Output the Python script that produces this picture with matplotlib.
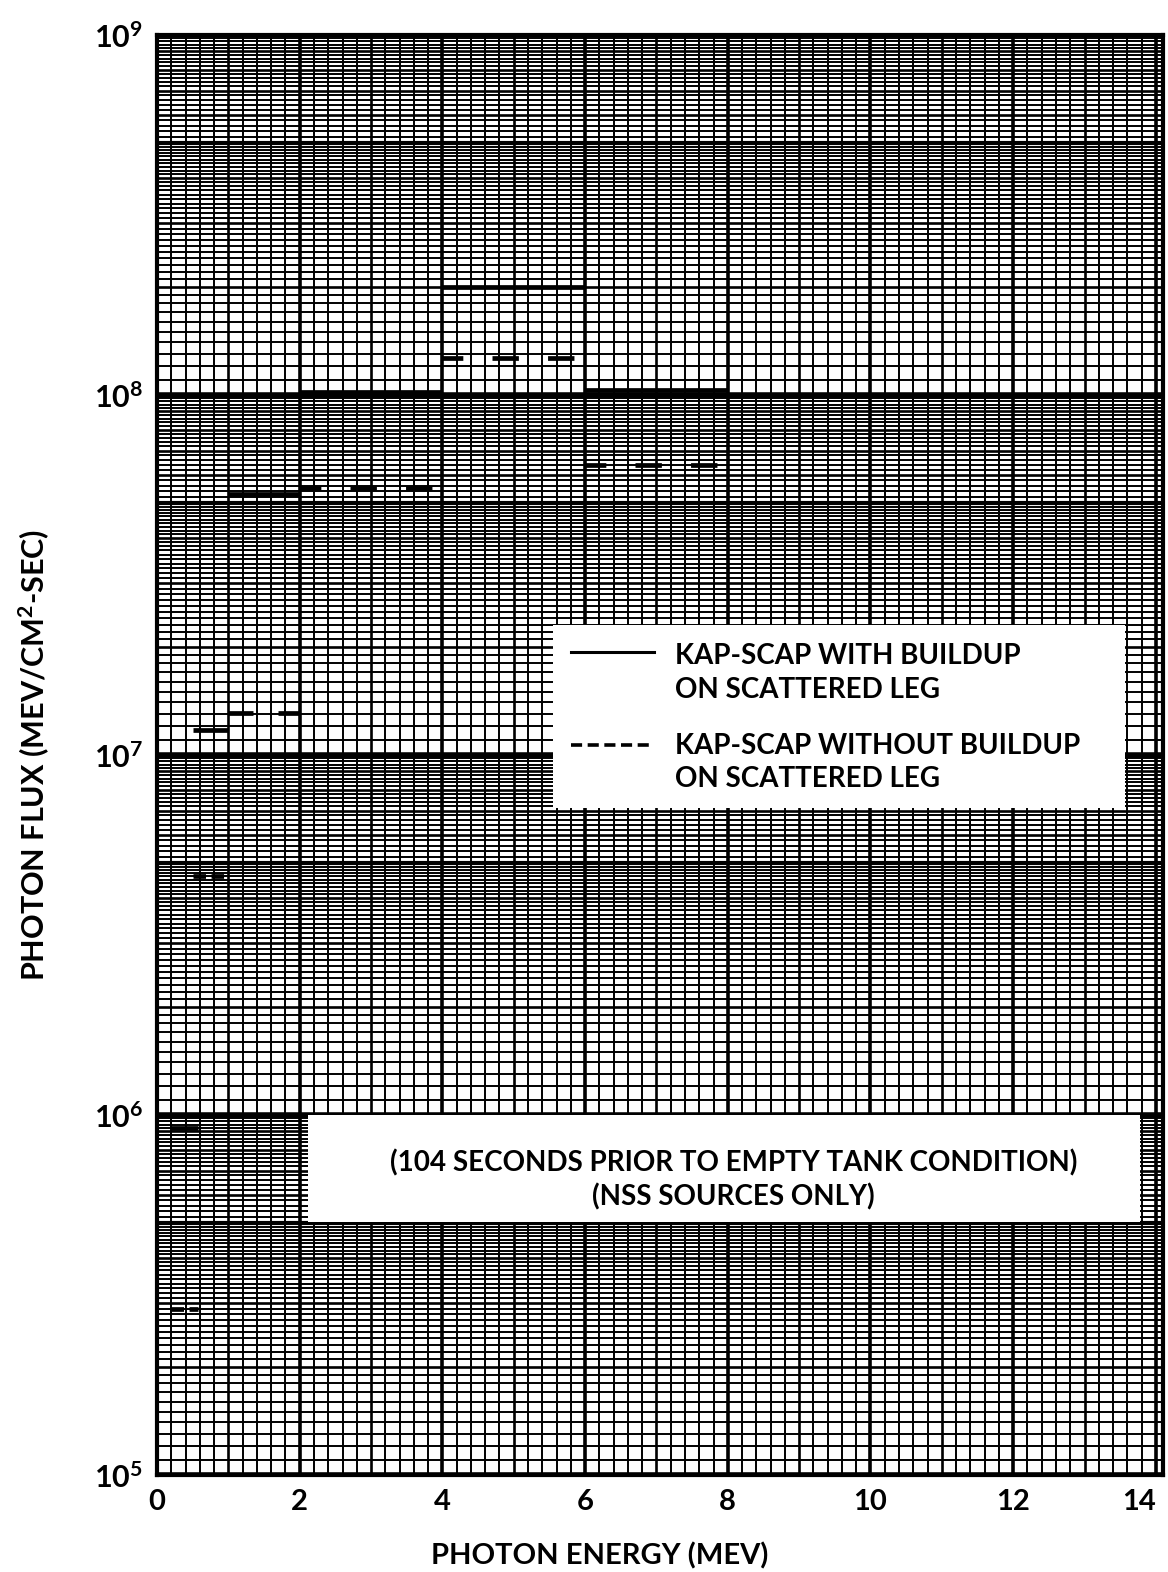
import matplotlib
matplotlib.use("Agg")
import matplotlib.pyplot as plt
import numpy as np
from matplotlib.patches import Rectangle

plt.rcParams['font.family'] = ['Lato', 'DejaVu Sans']
plt.rcParams['font.weight'] = 'bold'
plt.rcParams['axes.labelweight'] = 'bold'
plt.rcParams['mathtext.fontset'] = 'custom'
plt.rcParams['mathtext.rm'] = 'Lato:bold'
plt.rcParams['lines.scale_dashes'] = False

# energy bins (MeV) and photon flux
bin_lo = [0.2, 0.5, 1.0, 2.0, 4.0, 6.0]
bin_hi = [0.57, 1.0, 2.0, 4.0, 6.0, 8.0]
flux_with = [9.2e5, 1.17e7, 5.3e7, 1.02e8, 2.0e8, 1.03e8]
flux_without = [2.9e5, 4.6e6, 1.31e7, 5.5e7, 1.27e8, 6.4e7]

xticks = [0, 2, 4, 6, 8, 10, 12, 14]
yticks = [1e5, 1e6, 1e7, 1e8, 1e9]
ytick_labels = [r'$\mathregular{10^{5}}$', r'$\mathregular{10^{6}}$', r'$\mathregular{10^{7}}$',
                r'$\mathregular{10^{8}}$', r'$\mathregular{10^{9}}$']

fig = plt.figure(figsize=(11.68, 15.72), dpi=100)
ax = fig.add_axes([157/1168, 97/1572, 1006/1168, 1440/1572])
ax.set_yscale('log')
ax.set_xlim(0, 14.1)
ax.set_ylim(1e5, 1e9)

# graph paper: vertical lines
for x in np.arange(0, 14.2, 0.2):
    xr = round(x, 1)
    if abs(xr - round(xr)) < 1e-6 and int(round(xr)) % 2 == 0:
        lw = 2.6
    elif abs(xr - round(xr)) < 1e-6:
        lw = 1.9
    else:
        lw = 1.4
    ax.axvline(xr, color='black', lw=lw, zorder=1)

# graph paper: horizontal lines, one log cycle at a time
for dec in [1e5, 1e6, 1e7, 1e8]:
    vals = list(np.arange(1.0, 2.0, 0.1)) + list(np.arange(2.0, 5.0, 0.1)) + list(np.arange(5.0, 10.0, 0.2))
    for v in vals:
        v = round(v, 2)
        if v == 1.0:
            lw = 4.0
        elif v == 5.0:
            lw = 3.0
        elif abs(v - round(v)) < 1e-6:
            lw = 1.9
        else:
            lw = 1.4
        ax.axhline(v * dec, color='black', lw=lw, zorder=1)

# data
for lo, hi, f in zip(bin_lo, bin_hi, flux_with):
    ax.plot([lo, hi], [f, f], color='black', lw=3.4, solid_capstyle='butt', zorder=5)
for lo, hi, f in zip(bin_lo, bin_hi, flux_without):
    w = hi - lo
    if w >= 2:
        dash = (4, (19, 21))
    elif w >= 1:
        dash = (2, (20, 18))
    else:
        dash = (0, (9, 4))
    ax.plot([lo, hi], [f, f], color='black', lw=3.4, linestyle=dash, dash_capstyle='butt', zorder=5)

# legend box
ax.add_patch(Rectangle((0.394, 0.463), 0.568, 0.127, transform=ax.transAxes,
                       facecolor='white', edgecolor='none', zorder=3))
ax.plot([0.412, 0.494], [0.5715, 0.5715], transform=ax.transAxes, color='black', lw=2.2, zorder=6)
ax.plot([0.412, 0.494], [0.507, 0.507], transform=ax.transAxes, color='black', lw=2.6,
        linestyle=(0, (8, 4)), zorder=6)
ax.text(0.515, 0.569, 'KAP-SCAP WITH BUILDUP', transform=ax.transAxes, fontsize=20,
        va='center', ha='left', zorder=7)
ax.text(0.515, 0.545, 'ON SCATTERED LEG', transform=ax.transAxes, fontsize=20,
        va='center', ha='left', zorder=7)
ax.text(0.515, 0.506, 'KAP-SCAP WITHOUT BUILDUP', transform=ax.transAxes, fontsize=20,
        va='center', ha='left', zorder=7)
ax.text(0.515, 0.483, 'ON SCATTERED LEG', transform=ax.transAxes, fontsize=20,
        va='center', ha='left', zorder=7)

# note box
ax.add_patch(Rectangle((0.150, 0.176), 0.827, 0.074, transform=ax.transAxes,
                       facecolor='white', edgecolor='none', zorder=3))
ax.text(0.573, 0.2167, '(104 SECONDS PRIOR TO EMPTY TANK CONDITION)', transform=ax.transAxes,
        fontsize=20, va='center', ha='center', zorder=7)
ax.text(0.573, 0.193, '(NSS SOURCES ONLY)', transform=ax.transAxes,
        fontsize=20, va='center', ha='center', zorder=7)

ax.set_xticks(xticks)
ax.set_xticklabels([str(t) for t in xticks], fontsize=21)
ax.get_xticklabels()[-1].set_horizontalalignment('right')
ax.set_yticks(yticks)
ax.set_yticklabels(ytick_labels, fontsize=22)
ax.yaxis.set_minor_locator(matplotlib.ticker.NullLocator())
ax.tick_params(axis='both', length=0, pad=10)
ax.set_xlabel('PHOTON ENERGY (MEV)', fontsize=21)
ax.xaxis.set_label_coords(0.44, -0.047)
ax.set_ylabel(r'PHOTON FLUX (MEV/CM$\mathregular{^{2}}$-SEC)', fontsize=22, labelpad=30)
for s in ax.spines.values():
    s.set_linewidth(3)
    s.set_zorder(8)

fig.savefig('out.png', dpi=100)
